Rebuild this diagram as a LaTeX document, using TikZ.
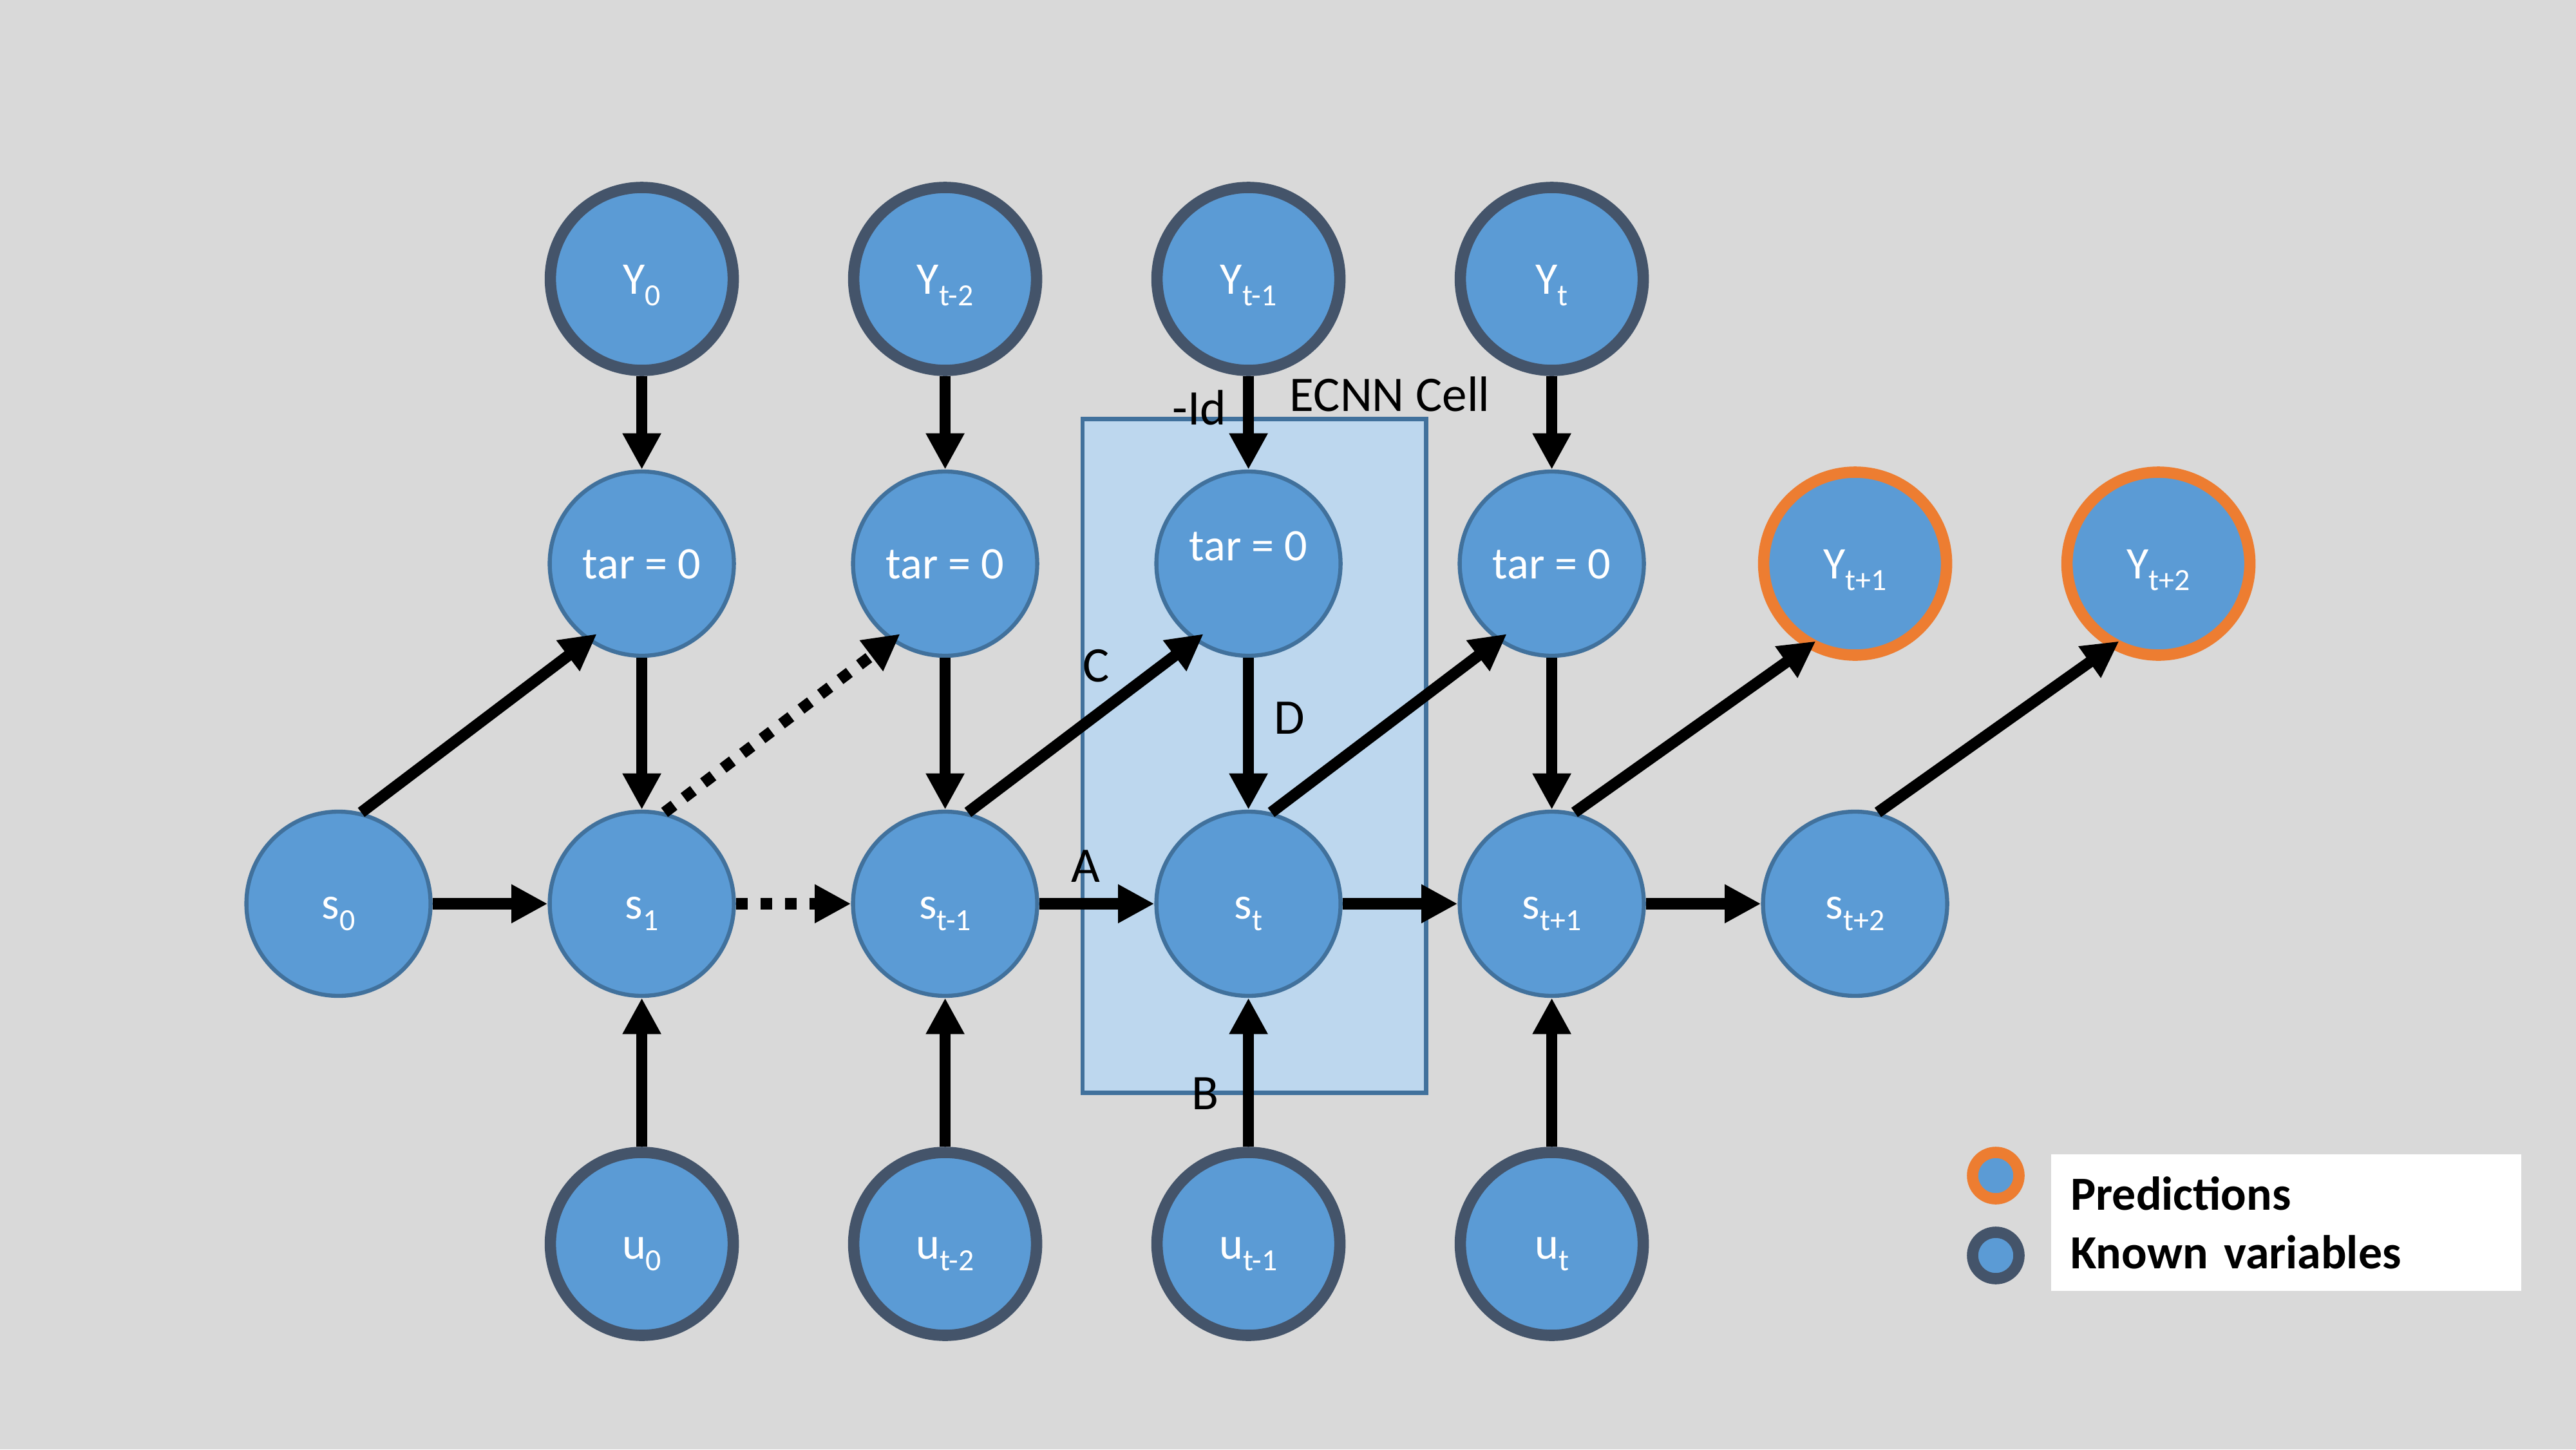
\documentclass[tikz,border=0pt]{standalone}
\usepackage{fontspec}
\setmainfont{Carlito}
\usepackage{tikz}
\usetikzlibrary{arrows.meta,positioning,backgrounds}
\definecolor{bgfill}{RGB}{217,217,217}
\definecolor{nodefill}{RGB}{91,155,213}
\definecolor{nodeline}{RGB}{65,113,156}
\definecolor{knownline}{RGB}{68,84,106}
\definecolor{predline}{RGB}{237,125,49}
\definecolor{cellfill}{RGB}{189,215,238}
\newcommand{\subix}[1]{\raisebox{-2.6pt}{\fontsize{6.8}{7}\selectfont #1}}
\tikzset{
  state/.style={circle, draw=nodeline, line width=0.9pt, fill=nodefill, minimum size=14.3mm, inner sep=1pt, text=white, text height=6.6pt, text depth=0pt, font=\fontsize{10}{12}\selectfont},
  known/.style={state, draw=knownline, line width=2.5pt, minimum size=14.2mm},
  pred/.style={state, draw=predline, line width=2.5pt, minimum size=14.2mm},
  arrow/.style={-{Triangle[length=8pt,width=8pt]}, line width=2.5pt},
  dottedarrow/.style={arrow, dash pattern=on 2.6pt off 2.8pt},
  diagarrow/.style={arrow, shorten >=-2.5pt},
  lbl/.style={inner sep=0pt, font=\fontsize{11}{13}\selectfont},
  cellbox/.style={draw=nodeline, line width=0.9pt, fill=cellfill},
  legendbox/.style={fill=white, align=left, inner xsep=1.5mm, text width=33.5mm, minimum height=10.6mm, font=\bfseries\fontsize{10.5}{12.9}\selectfont},
  legendkey/.style={circle, fill=nodefill, line width=2.5pt, minimum size=3.6mm, inner sep=0pt}
}

\begin{document}
\begin{tikzpicture}[node distance=26.4mm and 23.55mm, on grid]
  % state chain
  \node[state] (s0) {s\subix{0}};
  \node[state, right=of s0] (s1) {s\subix{1}};
  \node[state, right=of s1] (stm) {s\subix{t-1}};
  \node[state, right=of stm] (st) {s\subix{t}};
  \node[state, right=of st] (stp) {s\subix{t+1}};
  \node[state, right=of stp] (stpp) {s\subix{t+2}};
  % targets
  \node[state, above=of s1] (tar0) {tar = 0};
  \node[state, above=of stm] (tarA) {tar = 0};
  \node[state, above=of st, text depth=8pt] (tarB) {tar = 0};
  \node[state, above=of stp] (tarC) {tar = 0};
  \node[pred, above=of stpp] (ytp) {Y\subix{t+1}};
  \node[pred, right=of ytp] (ytpp) {Y\subix{t+2}};
  % observations
  \node[known, above=22.1mm of tar0] (y0) {Y\subix{0}};
  \node[known, above=22.1mm of tarA] (ytmm) {Y\subix{t-2}};
  \node[known, above=22.1mm of tarB] (ytm) {Y\subix{t-1}};
  \node[known, above=22.1mm of tarC] (yt) {Y\subix{t}};
  \node[known, below=of s1] (u0) {u\subix{0}};
  \node[known, below=of stm] (utmm) {u\subix{t-2}};
  \node[known, below=of st] (utm) {u\subix{t-1}};
  \node[known, below=of stp] (ut) {u\subix{t}};
  % labels
  \node[lbl] (lid) at (6.684,3.852) {-Id};
  \node[lbl] (lcell) at (8.163,3.954) {ECNN Cell};
  \node[lbl] (lc) at (5.880,1.849) {C};
  \node[lbl] (ld) at (7.385,1.441) {D};
  \node[lbl] (la) at (5.803,0.293) {A};
  \node[lbl] (lb) at (6.731,-1.472) {B};
  % legend
  \node[legendbox, anchor=north west] (legend) at (13.291,-1.939) {Predictions\\Known variables};
  \node[legendkey, draw=predline] (keypred) at (12.867,-2.110) {};
  \node[legendkey, draw=knownline] (keyknown) at (12.867,-2.730) {};
  \begin{scope}[on background layer]
    \fill[bgfill] (-2.628,-4.235) rectangle (17.372,7.015);
    \draw[cellbox] (5.778,-1.467) rectangle (8.444,3.763);
  \end{scope}
  \draw[arrow] (s0) -- (s1);
  \draw[dottedarrow] (s1) -- (stm);
  \draw[arrow] (stm) -- (st);
  \draw[arrow] (st) -- (stp);
  \draw[arrow] (stp) -- (stpp);
  \draw[arrow] (y0) -- (tar0);
  \draw[arrow] (ytmm) -- (tarA);
  \draw[arrow] (ytm) -- (tarB);
  \draw[arrow] (yt) -- (tarC);
  \draw[arrow] (tar0) -- (s1);
  \draw[arrow] (tarA) -- (stm);
  \draw[arrow] (tarB) -- (st);
  \draw[arrow] (tarC) -- (stp);
  \draw[arrow] (u0) -- (s1);
  \draw[arrow] (utmm) -- (stm);
  \draw[arrow] (utm) -- (st);
  \draw[arrow] (ut) -- (stp);
  \draw[diagarrow] (s0.76) -- (tar0.235);
  \draw[dottedarrow, shorten >=-2.5pt] (s1.76) -- (tarA.235);
  \draw[diagarrow] (stm.76) -- (tarB.235);
  \draw[diagarrow] (st.76) -- (tarC.235);
  \draw[diagarrow] (stp.76) -- (ytp.240);
  \draw[diagarrow] (stpp.76) -- (ytpp.240);
\end{tikzpicture}
\end{document}
